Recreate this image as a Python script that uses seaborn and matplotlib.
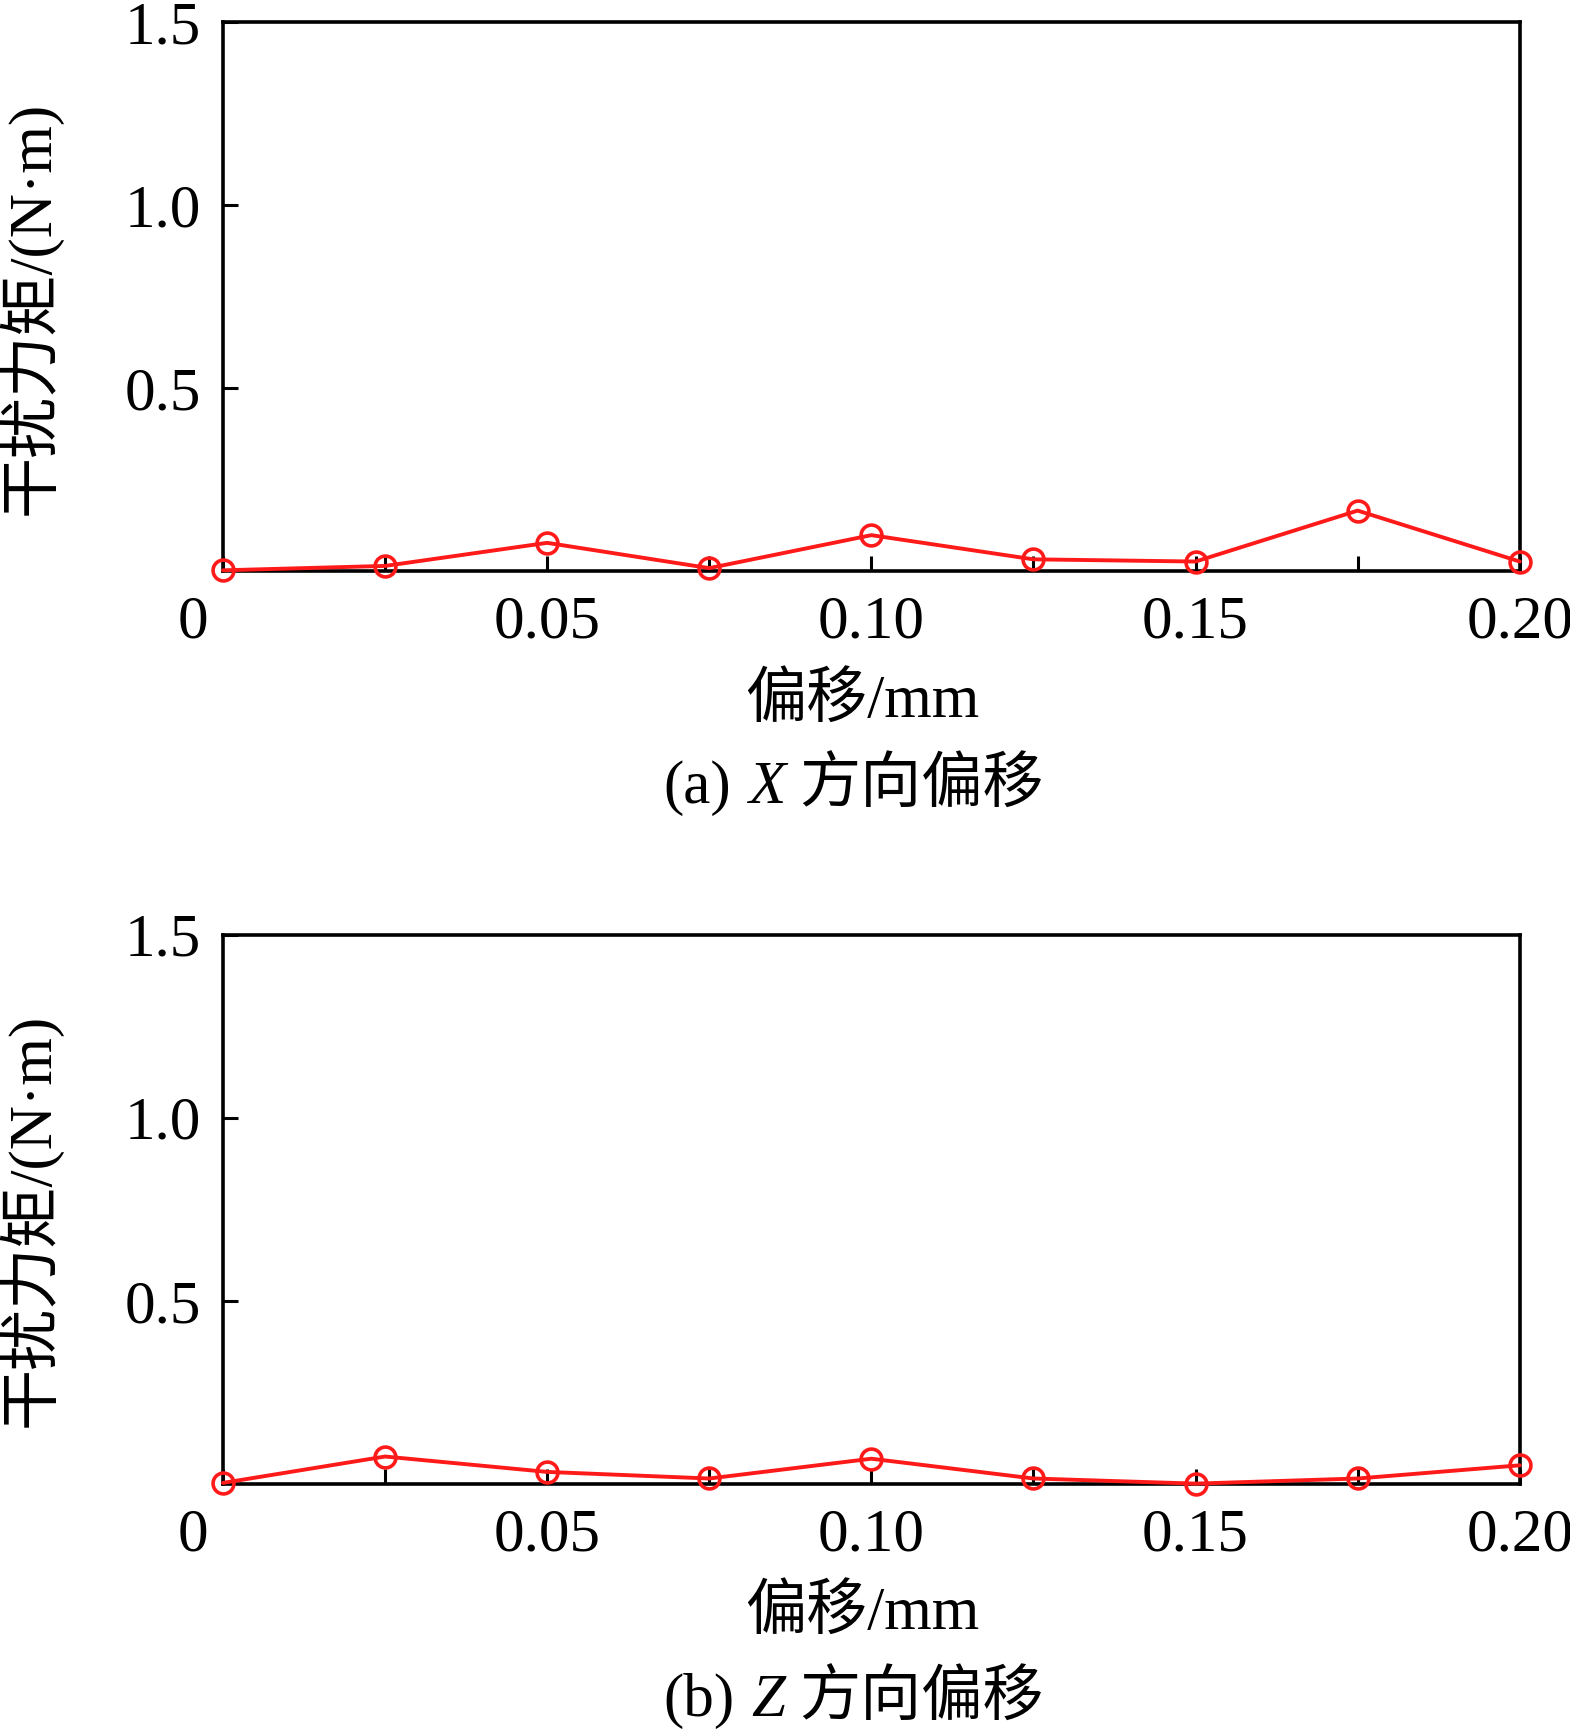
import numpy as np
import pandas as pd
import matplotlib
matplotlib.use('Agg')
import matplotlib.pyplot as plt
import matplotlib.transforms as mtransforms
import seaborn as sns

# offsets (mm) and disturbance torque (N·m)
offset = [0.0, 0.025, 0.05, 0.075, 0.10, 0.125, 0.15, 0.175, 0.20]
torque_x = [0.003, 0.015, 0.078, 0.009, 0.099, 0.033, 0.027, 0.166, 0.027]
torque_z = [0.003, 0.075, 0.033, 0.015, 0.069, 0.015, 0.001, 0.015, 0.051]

xticks = [0.0, 0.05, 0.10, 0.15, 0.20]
xticklabels = ['0', '0.05', '0.10', '0.15', '0.20']
yticks = [0.5, 1.0, 1.5]
yticklabels = ['0.5', '1.0', '1.5']
panel_tags = ['(a)', '(b)']
panel_axes = ['X', 'Z']

sns.set_style('white')
plt.rcParams['font.family'] = ['Liberation Serif', 'Noto Sans CJK SC']
plt.rcParams['axes.unicode_minus'] = False
plt.rcParams['text.color'] = 'black'
plt.rcParams['xtick.labelcolor'] = 'black'
plt.rcParams['ytick.labelcolor'] = 'black'

fs = 44
red = '#ff1a1a'
fig = plt.figure(figsize=(15.7, 17.3), dpi=100)
ax_a = fig.add_axes([0.142, 0.6697, 0.826, 0.3176])
ax_b = fig.add_axes([0.142, 0.1422, 0.826, 0.3176])

for ax, vals, tag, axname in zip([ax_a, ax_b], [torque_x, torque_z], panel_tags, panel_axes):
    df = pd.DataFrame({'offset': offset, 'torque': vals})
    sns.lineplot(data=df, x='offset', y='torque', ax=ax, color=red,
                 linewidth=2.8, marker='o', markersize=15, markerfacecolor='none',
                 markeredgecolor=red, markeredgewidth=2.6, clip_on=False, zorder=5)
    ax.set_xlim(0, 0.2)
    ax.set_ylim(0, 1.5)
    for s in ax.spines.values():
        s.set_color('black')
        s.set_linewidth(2.6)
    ax.set_xticks(xticks)
    ax.set_xticklabels(xticklabels)
    ax.set_xticks([0.025, 0.075, 0.125, 0.175], minor=True)
    ax.set_yticks(yticks)
    ax.set_yticklabels(yticklabels)
    ax.tick_params(axis='both', which='both', direction='in', length=11, width=2.2,
                   color='black', labelsize=fs, labelcolor='black', top=False, right=False)
    ax.tick_params(axis='x', which='both', pad=17, bottom=True)
    ax.tick_params(axis='y', pad=16, left=True)
    zero = ax.get_xticklabels()[0]
    zero.set_horizontalalignment('right')
    zero.set_transform(zero.get_transform() +
                       mtransforms.ScaledTranslation(-0.15, 0, fig.dpi_scale_trans))
    ax.set_xlabel('')
    ax.set_ylabel('')
    ax.text(-0.149, 0.48, '干扰力矩/(N·m)', transform=ax.transAxes, rotation=90,
            ha='center', va='center', fontsize=fs)
    ax.text(0.493, -0.236, '偏移/mm', transform=ax.transAxes,
            ha='center', va='center', fontsize=fs)
    t1 = ax.text(0.34, -0.394, tag, transform=ax.transAxes,
                 ha='left', va='center', fontsize=fs)
    t2 = ax.annotate(axname, xy=(1, 0), xycoords=t1, xytext=(12, 0),
                     textcoords='offset points', ha='left', va='bottom',
                     fontsize=fs, fontstyle='italic')
    ax.annotate('方向偏移', xy=(1, 0), xycoords=t2, xytext=(10, 0),
                textcoords='offset points', ha='left', va='bottom', fontsize=fs)

fig.savefig('out.png', dpi=100, facecolor='white')
